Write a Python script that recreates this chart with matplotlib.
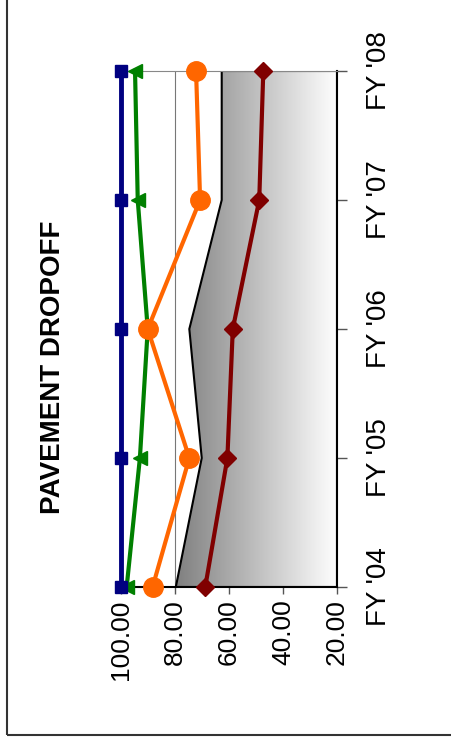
import matplotlib
matplotlib.use("Agg")
import matplotlib.pyplot as plt
import numpy as np
from matplotlib.colors import LinearSegmentedColormap
from matplotlib.patches import Polygon, Rectangle

plt.rcParams['font.family'] = ['Liberation Sans', 'DejaVu Sans']

# datos (el grafico esta girado 90 grados)
categorias = ["FY '04", "FY '05", "FY '06", "FY '07", "FY '08"]
serie_azul = [100.0, 100.0, 100.0, 100.0, 100.0]
serie_verde = [97.9, 93.0, 90.1, 93.8, 94.8]
serie_naranja = [88.3, 74.7, 90.1, 70.7, 72.2]
serie_roja = [68.8, 60.6, 58.6, 48.8, 47.3]
serie_area = [79.7, 70.1, 74.7, 62.7, 62.7]
valores_eje = [100, 80, 60, 40, 20]

fig = plt.figure(figsize=(4.51, 7.40), dpi=100)

# marco exterior
fig.patches.append(Rectangle((7 / 451, 5 / 740), 1.2, 1.1, transform=fig.transFigure,
                             fill=False, edgecolor="#333333", linewidth=1.5))

ax = fig.add_axes([121 / 451, 153 / 740, 216 / 451, 516 / 740])
y = np.arange(len(categorias))

# area con degradado
puntos = [(v, i) for i, v in zip(y, serie_area)] + [(20, y[-1]), (20, 0)]
poligono = Polygon(puntos, closed=True, facecolor="none", edgecolor="black",
                   linewidth=1.5, zorder=2)
ax.add_patch(poligono)
cmap = LinearSegmentedColormap.from_list("gris", ["#7f7f7f", "#ffffff"])
grad = np.linspace(0, 1, 256).reshape(1, -1)
img = ax.imshow(grad, cmap=cmap, extent=(80, 20, 0, y[-1]), aspect="auto", zorder=1)
img.set_clip_path(poligono)
ax.set_xlim(100, 20)
ax.set_ylim(0, len(categorias) - 1)

ax.plot(serie_azul, y, color="#000080", linewidth=3.5, marker="s", markersize=9,
        clip_on=False, zorder=5)
ax.plot(serie_verde, y, color="#008000", linewidth=3, marker="<", markersize=10,
        clip_on=False, zorder=4)
ax.plot(serie_naranja, y, color="#FF6600", linewidth=3, marker="o", markersize=14,
        clip_on=False, zorder=4)
ax.plot(serie_roja, y, color="#800000", linewidth=3, marker="D", markersize=9,
        clip_on=False, zorder=4)

ax.set_xticks(valores_eje)
ax.set_xticklabels(["%.2f" % v for v in valores_eje], rotation=90, fontsize=19)
ax.set_yticks(y)
ax.set_yticklabels(categorias, rotation=90, fontsize=20, va="center")
ax.yaxis.tick_right()
ax.tick_params(axis="x", direction="out", length=5, width=1, color="#555555", pad=4)
ax.tick_params(axis="y", direction="out", length=7, width=1, color="#555555", pad=14)

ax.grid(axis="x", color="#777777", linewidth=0.8, zorder=0)
ax.set_axisbelow(True)
ax.spines["top"].set_color("#888888")
ax.spines["left"].set_color("#888888")
ax.spines["bottom"].set_linewidth(1.5)
ax.spines["right"].set_linewidth(1.5)

fig.text(53 / 451, 1 - 367 / 740, "PAVEMENT DROPOFF", rotation=90, fontsize=20,
         fontweight="bold", ha="center", va="center")

fig.savefig("out.png", dpi=100)
